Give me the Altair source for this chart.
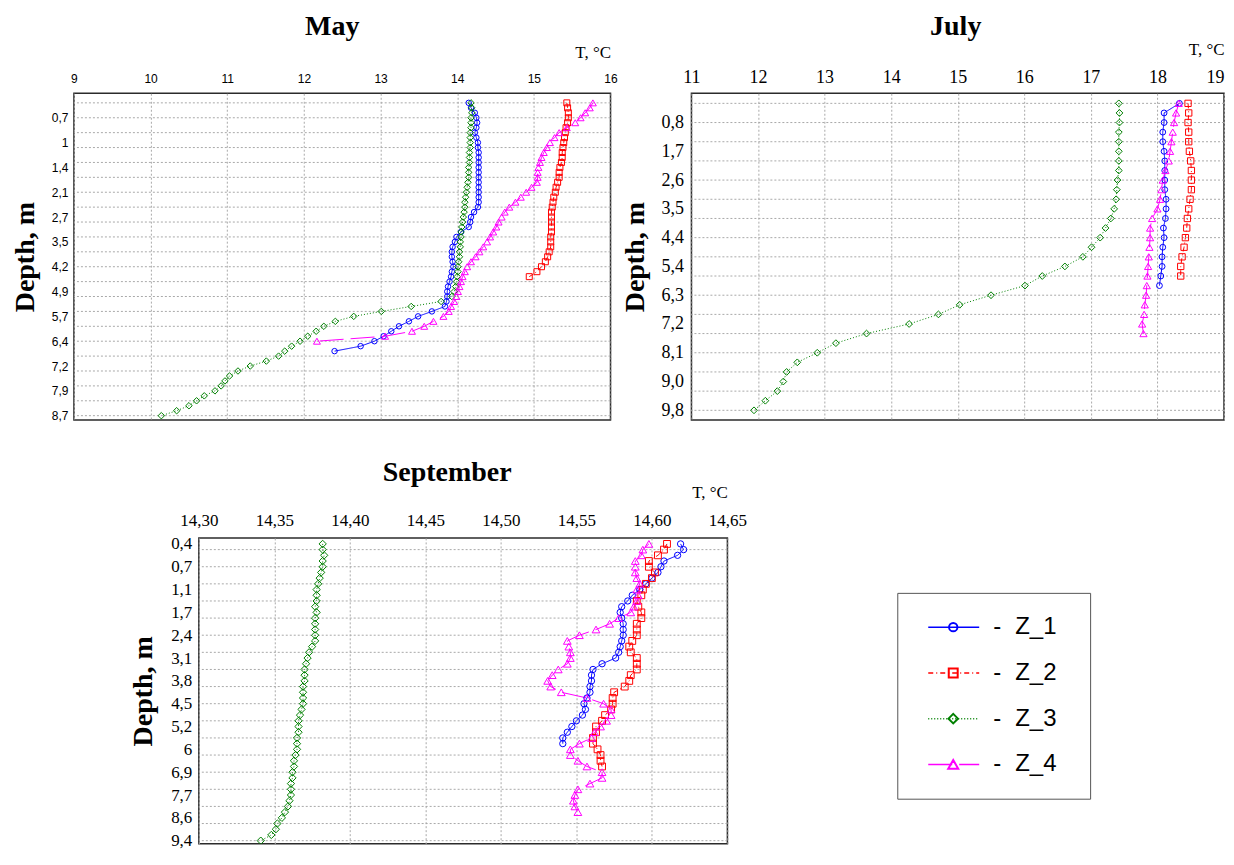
import json
import altair as alt
import pandas as pd

SERIES = ["Z_1", "Z_2", "Z_3", "Z_4"]
COLORS = ["#0000ff", "#ff0000", "#008000", "#ff00ff"]
SHAPES = ["circle", "square", "diamond", "triangle-up"]
DASHES = [[1, 0], [5, 3, 1, 3], [1, 2], [24, 7]]

# ---------------- May ----------------
MAY_Z1 = [14.15, 14.18, 14.23, 14.25, 14.26, 14.25, 14.23, 14.25, 14.27, 14.27,
          14.28, 14.28, 14.28, 14.28, 14.28, 14.28, 14.28, 14.28, 14.28, 14.28,
          14.28, 14.27, 14.22, 14.18, 14.17, 14.15, 14.05, 13.99, 13.97, 13.94,
          13.93, 13.93, 13.94, 13.95, 13.93, 13.92, 13.90, 13.88, 13.87, 13.87,
          13.86, 13.84, 13.67, 13.49, 13.37, 13.24, 13.14, 13.04, 12.92, 12.74,
          12.40]
MAY_Z2 = [15.43, 15.44, 15.45, 15.45, 15.44, 15.42, 15.41, 15.40, 15.39, 15.38,
          15.37, 15.37, 15.36, 15.34, 15.33, 15.33, 15.31, 15.29, 15.28, 15.26,
          15.25, 15.24, 15.23, 15.23, 15.23, 15.23, 15.23, 15.22, 15.22, 15.22,
          15.20, 15.18, 15.15, 15.10, 15.04, 14.94]
MAY_Z3 = [14.18, 14.19, 14.19, 14.18, 14.18, 14.18, 14.17, 14.17, 14.17, 14.17,
          14.16, 14.16, 14.16, 14.15, 14.15, 14.15, 14.14, 14.13, 14.12, 14.11,
          14.10, 14.10, 14.09, 14.08, 14.07, 14.06, 14.05, 14.05, 14.04, 14.04,
          14.03, 14.03, 14.02, 14.01, 14.01, 14.00, 13.99, 13.98, 13.96, 13.93,
          13.79, 13.40, 13.01, 12.65, 12.41, 12.26, 12.16, 12.05, 11.95, 11.84,
          11.75, 11.67, 11.51, 11.30, 11.14, 11.03, 10.97, 10.92, 10.84, 10.70,
          10.60, 10.50, 10.34, 10.14]
MAY_Z4 = [15.77, 15.73, 15.67, 15.61, 15.54, 15.43, 15.33, 15.27, 15.21, 15.17,
          15.13, 15.10, 15.08, 15.06, 15.05, 15.05, 15.04, 14.97, 14.90, 14.83,
          14.76, 14.68, 14.62, 14.58, 14.54, 14.51, 14.47, 14.43, 14.39, 14.34,
          14.29, 14.24, 14.18, 14.13, 14.10, 14.07, 14.05, 14.03, 14.01, 13.99,
          13.96, 13.92, 13.89, 13.82, 13.69, 13.57, 13.41, 13.06, 12.17]
MAY_X_TICKS = [9, 10, 11, 12, 13, 14, 15, 16]
MAY_LABEL_SAMPLES = [3, 8, 13, 18, 23, 28, 33, 38, 43, 48, 53, 58, 63]
MAY_DEPTH_LABELS = ["0,7", "1", "1,4", "2,1", "2,7", "3,5", "4,2", "4,9",
                    "5,7", "6,4", "7,2", "7,9", "8,7"]
MAY_GRID_SAMPLES = [0, 3, 6, 9, 12, 15, 18, 21, 24, 27, 30, 33, 36, 39, 42,
                    45, 48, 51, 54, 57, 60, 63]

# ---------------- July ----------------
JUL_Z1 = [18.33, 18.10, 18.10, 18.08, 18.08, 18.10, 18.11, 18.11, 18.11, 18.11,
          18.13, 18.13, 18.12, 18.09, 18.10, 18.08, 18.07, 18.07, 18.05, 18.03]
JUL_Z2 = [18.46, 18.47, 18.46, 18.47, 18.47, 18.48, 18.50, 18.51, 18.51, 18.51,
          18.49, 18.47, 18.45, 18.44, 18.42, 18.40, 18.37, 18.35, 18.35]
JUL_Z3 = [17.42, 17.43, 17.43, 17.42, 17.42, 17.42, 17.42, 17.42, 17.40, 17.39,
          17.38, 17.35, 17.30, 17.22, 17.14, 17.01, 16.88, 16.61, 16.27, 16.01,
          15.50, 15.03, 14.71, 14.27, 13.63, 13.17, 12.89, 12.59, 12.43, 12.38,
          12.29, 12.11, 11.94]
JUL_Z4 = [18.32, 18.28, 18.25, 18.23, 18.21, 18.19, 18.17, 18.12, 18.08, 18.06,
          18.04, 18.00, 17.92, 17.89, 17.89, 17.88, 17.87, 17.86, 17.85, 17.84,
          17.83, 17.81, 17.80, 17.77, 17.79]
JUL_X_TICKS = [11, 12, 13, 14, 15, 16, 17, 18, 19]
JUL_LABEL_SAMPLES = [2, 5, 8, 11, 14, 17, 20, 23, 26, 29, 32]
JUL_DEPTH_LABELS = ["0,8", "1,7", "2,6", "3,5", "4,4", "5,4", "6,3", "7,2",
                    "8,1", "9,0", "9,8"]
JUL_GRID_SAMPLES = [0, 2, 4, 6, 8, 10, 12, 14, 16, 18, 20, 22, 24, 26, 28, 30, 32]

# ---------------- September ----------------
SEP_Z1 = [14.619, 14.621, 14.617, 14.608, 14.606, 14.604, 14.600, 14.596, 14.592, 14.587,
          14.584, 14.580, 14.579, 14.580, 14.581, 14.581, 14.581, 14.580, 14.579, 14.578,
          14.576, 14.567, 14.561, 14.560, 14.560, 14.559, 14.559, 14.557, 14.555, 14.556,
          14.554, 14.550, 14.547, 14.544, 14.541, 14.541]
SEP_Z2 = [14.610, 14.608, 14.604, 14.598, 14.598, 14.602, 14.600, 14.596, 14.594, 14.593,
          14.590, 14.591, 14.593, 14.593, 14.590, 14.590, 14.590, 14.587, 14.585, 14.586,
          14.590, 14.590, 14.590, 14.586, 14.585, 14.582, 14.575, 14.574, 14.574, 14.573,
          14.569, 14.567, 14.563, 14.563, 14.561, 14.561, 14.564, 14.566, 14.566, 14.567]
SEP_Z3 = [14.382, 14.382, 14.383, 14.382, 14.382, 14.381, 14.380, 14.379, 14.378, 14.378,
          14.378, 14.377, 14.378, 14.377, 14.377, 14.377, 14.377, 14.377, 14.375, 14.373,
          14.372, 14.371, 14.370, 14.370, 14.370, 14.369, 14.369, 14.369, 14.369, 14.368,
          14.367, 14.366, 14.366, 14.366, 14.365, 14.365, 14.365, 14.364, 14.363, 14.363,
          14.362, 14.362, 14.361, 14.361, 14.361, 14.360, 14.359, 14.357, 14.355, 14.352,
          14.351, 14.348, 14.341]
SEP_Z4 = [14.598, 14.594, 14.593, 14.589, 14.589, 14.589, 14.590, 14.592, 14.590, 14.591,
          14.590, 14.588, 14.586, 14.578, 14.572, 14.563, 14.552, 14.544, 14.545, 14.546,
          14.546, 14.544, 14.538, 14.534, 14.531, 14.533, 14.540, 14.557, 14.568, 14.573,
          14.573, 14.570, 14.566, 14.562, 14.560, 14.552, 14.546, 14.546, 14.551, 14.557,
          14.567, 14.567, 14.559, 14.551, 14.549, 14.548, 14.549, 14.551]
SEP_X_TICKS = [14.30, 14.35, 14.40, 14.45, 14.50, 14.55, 14.60, 14.65]
SEP_LABEL_SAMPLES = [0, 4, 8, 12, 16, 20, 24, 28, 32, 36, 40, 44, 48, 52]
SEP_DEPTH_LABELS = ["0,4", "0,7", "1,1", "1,7", "2,4", "3,1", "3,8", "4,5",
                    "5,2", "6", "6,9", "7,7", "8,6", "9,4"]
SEP_GRID_SAMPLES = [1, 4, 7, 10, 13, 16, 19, 22, 25, 28, 31, 34, 37, 40, 43, 46, 49, 52]

SERIF = "Liberation Serif"
SANS = "Liberation Sans"
GRID_COLOR = "#a9a9a9"

color_scale = alt.Scale(domain=SERIES, range=COLORS)
shape_scale = alt.Scale(domain=SERIES, range=SHAPES)
dash_scale = alt.Scale(domain=SERIES, range=DASHES)


def long_df(lists):
    rows = []
    for name, vals in zip(SERIES, lists):
        for i, v in enumerate(vals):
            rows.append({"series": name, "s": i, "T": v})
    return pd.DataFrame(rows)


def panel(lists, title, title_dx, title_offset, width, height, xdom, xticks, xlabel_expr,
          x_font, x_size, x_pad, ydom, ypos, ylabels, grid_pos, y_font, y_size,
          y_pad, ytitle_x, t_title_y, marker_sizes, last_label_right=False):
    df = long_df(lists)
    expr = "%s[indexof(%s, datum.value)]" % (json.dumps(ylabels), json.dumps(ypos))
    yscale = alt.Scale(domain=ydom, reverse=True, nice=False, zero=False)
    xscale = alt.Scale(domain=xdom, nice=False, zero=False)
    y_axis = alt.Axis(values=ypos, labelExpr=expr, title="Depth, m",
                      titleX=ytitle_x, titleY=height / 2, titleAngle=270,
                      titleAlign="center", titleBaseline="middle",
                      titleFont=SERIF, titleFontSize=28, titleFontWeight="bold",
                      titleColor="black", grid=False, ticks=False, domain=False,
                      labelFont=y_font, labelFontSize=y_size, labelColor="black",
                      labelPadding=y_pad)
    if last_label_right:
        label_align = {"condition": {"test": "datum.value >= %s" % xticks[-1],
                                     "value": "right"}, "value": "center"}
    else:
        label_align = "center"
    x_axis = alt.Axis(orient="top", values=xticks, labelExpr=xlabel_expr,
                      title="T, °C", titleX=width, titleY=t_title_y,
                      titleAlign="right", titleBaseline="alphabetic",
                      titleFont=SERIF, titleFontSize=17, titleFontWeight="normal",
                      titleColor="black", grid=True, gridColor=GRID_COLOR,
                      gridDash=[2, 2], gridWidth=1, ticks=False, domain=False,
                      labelFont=x_font, labelFontSize=x_size, labelColor="black",
                      labelPadding=x_pad, labelFlush=False, labelOverlap=False,
                      labelAlign=label_align)
    y_enc = alt.Y("s:Q", scale=yscale, axis=y_axis)
    x_enc = alt.X("T:Q", scale=xscale, axis=x_axis)

    grid = alt.Chart(pd.DataFrame({"s": grid_pos})).mark_rule(
        color=GRID_COLOR, strokeDash=[2, 2], strokeWidth=1).encode(y=y_enc)
    lines = alt.Chart(df).mark_line(strokeWidth=1, clip=True).encode(
        x=x_enc, y=y_enc,
        color=alt.Color("series:N", scale=color_scale, legend=None),
        strokeDash=alt.StrokeDash("series:N", scale=dash_scale, legend=None),
        order=alt.Order("s:Q"))
    pts = alt.Chart(df).mark_point(filled=False, strokeWidth=1, opacity=1, clip=True).encode(
        x=x_enc, y=y_enc,
        color=alt.Color("series:N", scale=color_scale, legend=None),
        shape=alt.Shape("series:N", scale=shape_scale, legend=None),
        size=alt.Size("series:N", scale=alt.Scale(domain=SERIES, range=marker_sizes),
                      legend=None))
    return alt.layer(grid, lines, pts).properties(
        width=width, height=height,
        title=alt.TitleParams(text=title, font=SERIF, fontSize=28, fontWeight="bold",
                              color="black", anchor="middle", dx=title_dx,
                              offset=title_offset, baseline="alphabetic"))


int_expr = "format(datum.value, 'd')"
comma_expr = "replace(format(datum.value, '.2f'), '.', ',')"

may = panel([MAY_Z1, MAY_Z2, MAY_Z3, MAY_Z4], "May", -10, -20, 537, 327, [9, 16],
            MAY_X_TICKS, int_expr, SANS, 12, 8, [-1.93, 63.87], MAY_LABEL_SAMPLES,
            MAY_DEPTH_LABELS, MAY_GRID_SAMPLES, SANS, 12, 6, -48, -36, [30, 48, 30, 45])
july = panel([JUL_Z1, JUL_Z2, JUL_Z3, JUL_Z4], "July", -2, -23, 533, 327, [11, 19],
             JUL_X_TICKS, int_expr, SERIF, 18, 7, [-1.05, 33.01], JUL_LABEL_SAMPLES,
             JUL_DEPTH_LABELS, JUL_GRID_SAMPLES, SERIF, 18, 8, -56, -39, [34, 52, 30, 55],
             last_label_right=True)
sept = panel([SEP_Z1, SEP_Z2, SEP_Z3, SEP_Z4], "September", -16, -25, 529, 306,
             [14.30, 14.65], SEP_X_TICKS, comma_expr, SERIF, 17, 8, [-1.05, 52.525],
             SEP_LABEL_SAMPLES, SEP_DEPTH_LABELS, SEP_GRID_SAMPLES, SERIF, 17, 7, -55, -40,
             [40, 60, 40, 62])

# ---------------- legend box ----------------
leg_df = pd.DataFrame({"series": SERIES})
ly = alt.Y("series:N", scale=alt.Scale(domain=SERIES, type="point", padding=0.75), axis=None)
leg_line = alt.Chart(leg_df).mark_rule(strokeWidth=1.5).encode(
    x=alt.value(31), x2=alt.value(82), y=ly,
    color=alt.Color("series:N", scale=color_scale, legend=None),
    strokeDash=alt.StrokeDash("series:N", scale=dash_scale, legend=None))
leg_pt = alt.Chart(leg_df).mark_point(filled=False, strokeWidth=2, opacity=1).encode(
    x=alt.value(56), y=ly,
    color=alt.Color("series:N", scale=color_scale, legend=None),
    shape=alt.Shape("series:N", scale=shape_scale, legend=None),
    size=alt.Size("series:N", scale=alt.Scale(domain=SERIES, range=[70, 100, 110, 120]),
                  legend=None))
leg_dash = alt.Chart(leg_df).mark_text(font=SANS, fontSize=24, color="black",
                                       align="center", baseline="middle").encode(
    x=alt.value(100), y=ly, text=alt.value("-"))
leg_txt = alt.Chart(leg_df).mark_text(font=SANS, fontSize=24, color="black",
                                      align="left", baseline="middle").encode(
    x=alt.value(118), y=ly, text="series:N")
legend = alt.layer(leg_line, leg_pt, leg_dash, leg_txt).properties(
    width=193, height=206, view=alt.ViewBackground(stroke="#555555", strokeWidth=1))


def spacer(w, h):
    return alt.Chart(pd.DataFrame({"a": [0]})).mark_point(opacity=0, size=1).encode(
        x=alt.value(0), y=alt.value(0)).properties(
        width=w, height=h, view=alt.ViewBackground(stroke="transparent"))


legend_col = alt.vconcat(spacer(10, 45), legend, spacing=10, bounds="flush")
top = alt.hconcat(may, july, spacing=81, bounds="flush").resolve_scale(size="independent")
bottom = alt.hconcat(spacer(115, 10), sept, spacer(150, 10), legend_col, spacing=10,
                     bounds="flush").resolve_scale(size="independent")

# nested concat rows count as zero-height in a flush layout: spacing = row height + gap
chart = alt.vconcat(top, bottom, spacing=445, bounds="flush").resolve_scale(
    size="independent").properties(
    padding={"left": 3, "top": 4, "right": 0, "bottom": 0},
    background="white").configure_view(stroke="#2b2b2b", strokeWidth=1.5)

chart.save("out.html", embed_options={"renderer": "svg", "actions": False})
